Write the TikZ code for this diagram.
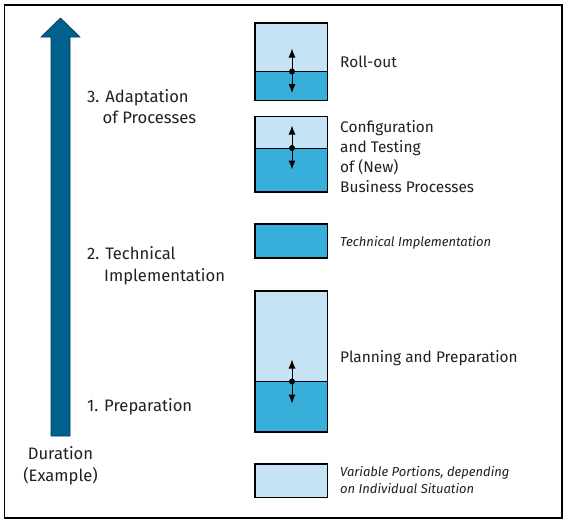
\documentclass[tikz,border=0pt]{standalone}
\usepackage{fontspec}
\setmainfont{Fira Sans}
\usetikzlibrary{arrows.meta}
\definecolor{lightb}{HTML}{C5E3F5}
\definecolor{midb}{HTML}{38AEDB}
\definecolor{darkb}{HTML}{00618F}
\definecolor{txt}{HTML}{231F20}
\tikzset{
  lbl/.style={anchor=base west, inner sep=0pt, text=txt, font=\fontsize{15.4}{20}\selectfont},
  llbl/.style={anchor=base west, inner sep=0pt, text=txt, font=\fontsize{16.6}{20}\selectfont},
  ilbl/.style={anchor=base west, inner sep=0pt, text=txt, font=\fontsize{13}{17}\selectfont\itshape},
  boxline/.style={draw=black, line width=1.2pt},
  dbl/.style={line width=1pt, {Latex[length=9pt,width=7pt]}-{Latex[length=9pt,width=7pt]}}
}
\begin{document}
\begin{tikzpicture}[x=1pt,y=-1pt]
\useasboundingbox (0,0) rectangle (567,523);
\fill[white] (0,0) rectangle (567,523);
\draw[line width=1.5pt] (4.5,5) rectangle (562,518);
% big arrow
\draw[fill=darkb, draw=darkb!60!black, line width=0.6pt]
  (51,436) -- (51,37) -- (41,37) -- (60.5,18) -- (80,37) -- (70,37) -- (70,436) -- cycle;
% box 1
\fill[lightb] (255,23) rectangle (327.5,71.5);
\fill[midb] (255,71.5) rectangle (327.5,100.5);
\draw[line width=0.9pt] (255,71.5) -- (327.5,71.5);
\draw[boxline] (255,23) rectangle (327.5,100.5);
\coordinate (c1) at (292,71.5);
\coordinate (u1) at (292,48.5);
\coordinate (d1) at (292,93);
\draw[dbl] (u1) -- (d1);
\fill (c1) circle (3pt);
% box 2
\fill[lightb] (255,116.5) rectangle (327.5,148);
\fill[midb] (255,148) rectangle (327.5,192);
\draw[line width=0.9pt] (255,148) -- (327.5,148);
\draw[boxline] (255,116.5) rectangle (327.5,192);
\coordinate (c2) at (292,148);
\coordinate (u2) at (292,125.5);
\coordinate (d2) at (292,169.5);
\draw[dbl] (u2) -- (d2);
\fill (c2) circle (3pt);
% box 3
\fill[midb] (255,224) rectangle (327.5,258);
\draw[boxline] (255,224) rectangle (327.5,258);
% box 4
\fill[lightb] (255,291) rectangle (327.5,381.5);
\fill[midb] (255,381.5) rectangle (327.5,432);
\draw[line width=1.6pt] (255,381.5) -- (327.5,381.5);
\draw[boxline] (255,291) rectangle (327.5,432);
\coordinate (c4) at (292,381.5);
\coordinate (u4) at (292,359.5);
\coordinate (d4) at (292,403.5);
\draw[dbl] (u4) -- (d4);
\fill (c4) circle (3pt);
% legend
\fill[lightb] (255,464) rectangle (327.5,497.5);
\draw[boxline] (255,464) rectangle (327.5,497.5);
% right labels
\node[lbl] (t1) at (340,67) {Roll-out};
\node[lbl] (t2a) at (340,132) {Configuration};
\node[lbl] (t2b) at (340,152) {and Testing};
\node[lbl] (t2c) at (340,172) {of (New)};
\node[lbl] (t2d) at (340,192) {Business Processes};
\node[ilbl] (t3) at (340,246) {Technical Implementation};
\node[lbl] (t4) at (340,362) {Planning and Preparation};
\node[ilbl] (t5a) at (340,476) {Variable Portions, depending};
\node[ilbl] (t5b) at (340,493) {on Individual Situation};
% left labels
\node[llbl] (l3a) at (87,102) {3. Adaptation};
\node[llbl] (l3b) at (102.5,123) {of Processes};
\node[llbl] (l2a) at (87,259) {2. Technical};
\node[llbl] (l2b) at (104,281) {Implementation};
\node[llbl] (l1) at (87,411) {1. Preparation};
\node[llbl, anchor=base] (dur) at (60.5,459) {Duration};
\node[llbl, anchor=base] (ex) at (60.5,481) {(Example)};
\end{tikzpicture}
\end{document}
